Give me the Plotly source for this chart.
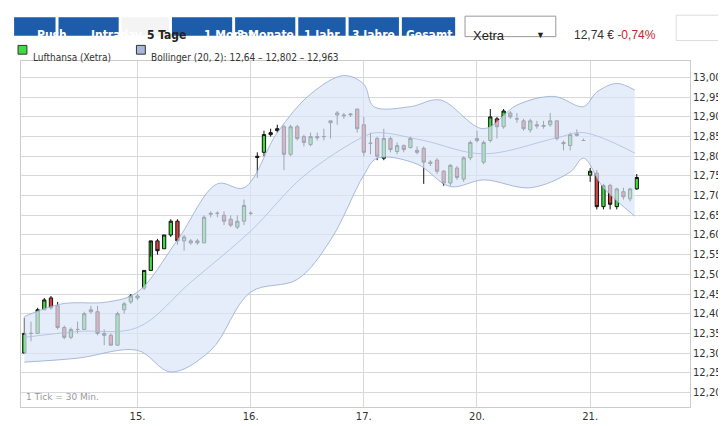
import plotly.graph_objects as go

# candle OHLC, x = 30-min slot index
opens = [12.30, 12.35, 12.35, 12.41, 12.44, 12.42, 12.365, 12.34, 12.36, 12.36, 12.405, 12.405, 12.35, 12.345, 12.32, 12.41, 12.43, 12.44,
         12.465, 12.51, 12.585, 12.565, 12.60, 12.635, 12.585, 12.58, 12.585, 12.58, 12.655, 12.655, 12.65, 12.64, 12.62, 12.635, 12.655,
         12.80, 12.81, 12.855, 12.865, 12.875, 12.805, 12.875, 12.85, 12.83, 12.85, 12.85, 12.89, 12.905, 12.905, 12.905, 12.92, 12.88,
         12.833, 12.845, 12.795, 12.845, 12.812, 12.827, 12.822, 12.815, 12.82, 12.785, 12.79, 12.762, 12.732, 12.77, 12.742, 12.796, 12.845,
         12.785, 12.84, 12.895, 12.875, 12.91, 12.895, 12.89, 12.867, 12.88, 12.876, 12.88, 12.89, 12.835, 12.827, 12.853, 12.84,
         12.752, 12.757, 12.672, 12.726, 12.672, 12.71, 12.692, 12.717]
closes = [12.35, 12.35, 12.41, 12.435, 12.415, 12.365, 12.34, 12.36, 12.36, 12.40, 12.41, 12.35, 12.345, 12.32, 12.40, 12.425, 12.445, 12.445,
          12.51, 12.585, 12.56, 12.60, 12.635, 12.585, 12.595, 12.585, 12.58, 12.645, 12.653, 12.655, 12.635, 12.625, 12.635, 12.675, 12.655,
          12.797, 12.855, 12.86, 12.87, 12.805, 12.875, 12.845, 12.835, 12.85, 12.847, 12.85, 12.885, 12.91, 12.903, 12.907, 12.87, 12.81,
          12.833, 12.80, 12.845, 12.817, 12.827, 12.817, 12.845, 12.81, 12.785, 12.782, 12.762, 12.732, 12.777, 12.746, 12.796, 12.835, 12.84,
          12.835, 12.90, 12.875, 12.915, 12.90, 12.895, 12.87, 12.89, 12.877, 12.878, 12.89, 12.845, 12.832, 12.855, 12.857, 12.84,
          12.762, 12.672, 12.726, 12.678, 12.717, 12.697, 12.717, 12.746]
highs = [12.39, 12.38, 12.415, 12.44, 12.445, 12.43, 12.37, 12.365, 12.38, 12.405, 12.42, 12.42, 12.36, 12.35, 12.405, 12.43, 12.45, 12.45,
         12.51, 12.545, 12.59, 12.60, 12.64, 12.64, 12.60, 12.59, 12.59, 12.65, 12.66, 12.66, 12.66, 12.65, 12.65, 12.69, 12.66,
         12.81, 12.865, 12.87, 12.88, 12.88, 12.88, 12.88, 12.855, 12.86, 12.86, 12.87, 12.89, 12.915, 12.91, 12.91, 12.92, 12.90,
         12.86, 12.85, 12.87, 12.85, 12.835, 12.83, 12.85, 12.825, 12.825, 12.79, 12.795, 12.765, 12.78, 12.775, 12.80, 12.84, 12.865,
         12.84, 12.92, 12.90, 12.92, 12.915, 12.91, 12.895, 12.895, 12.89, 12.89, 12.91, 12.89, 12.84, 12.86, 12.868, 12.845,
         12.77, 12.765, 12.73, 12.73, 12.72, 12.72, 12.72, 12.755]
lows = [12.30, 12.33, 12.35, 12.41, 12.41, 12.36, 12.335, 12.335, 12.35, 12.36, 12.40, 12.345, 12.32, 12.32, 12.32, 12.40, 12.425, 12.435,
        12.46, 12.51, 12.55, 12.565, 12.595, 12.575, 12.56, 12.575, 12.575, 12.58, 12.645, 12.645, 12.625, 12.62, 12.615, 12.625, 12.65,
        12.745, 12.80, 12.85, 12.86, 12.765, 12.80, 12.84, 12.825, 12.825, 12.84, 12.84, 12.845, 12.88, 12.895, 12.90, 12.86, 12.80,
        12.805, 12.79, 12.79, 12.81, 12.805, 12.81, 12.82, 12.805, 12.73, 12.775, 12.755, 12.725, 12.725, 12.74, 12.735, 12.79, 12.835,
        12.78, 12.835, 12.845, 12.87, 12.895, 12.885, 12.865, 12.86, 12.87, 12.87, 12.875, 12.84, 12.815, 12.815, 12.85, 12.84,
        12.735, 12.665, 12.665, 12.665, 12.665, 12.69, 12.685, 12.715]

# segment starts (slot) and lengths -> trading slots per day
seg_start = [0, 18, 35, 69, 85]
seg_len = [18, 17, 34, 16, 8]
slots = [s + i for s, n in zip(seg_start, seg_len) for i in range(n)]

# Bollinger bands (20, 2)
upper_x = [0, 5.6, 12.6, 17, 23, 29, 33, 38, 43, 48, 51, 52.5, 58, 62.5, 69, 74, 79.6, 84, 86, 89, 91.7]
upper_y = [12.393, 12.425, 12.43, 12.455, 12.587, 12.73, 12.72, 12.86, 12.958, 13.005, 12.983, 12.926, 12.926, 12.943, 12.87, 12.93, 12.952, 12.926, 12.963, 12.985, 12.968]
lower_x = [0, 8, 17, 22, 28, 34, 41, 46, 51, 53, 59, 64, 69, 76, 82, 84, 87, 91.7]
lower_y = [12.277, 12.287, 12.307, 12.252, 12.307, 12.455, 12.487, 12.587, 12.752, 12.795, 12.78, 12.723, 12.74, 12.72, 12.76, 12.795, 12.72, 12.648]
mid_x = [0, 8, 17, 25, 34, 42, 51, 53, 60, 69, 80, 84, 91.7]
mid_y = [12.34, 12.355, 12.365, 12.48, 12.61, 12.75, 12.85, 12.86, 12.84, 12.806, 12.847, 12.86, 12.808]

day_ticks = [17, 34, 51, 68, 85]
day_labels = ["15.", "16.", "17.", "20.", "21."]
buttons = ["Push", "Intraday", "5 Tage", "1 Monat", "3 Monate", "1 Jahr", "3 Jahre", "Gesamt"]
button_x = [[5, 47], [50, 111], [114, 162], [165, 226], [229, 290], [293, 341], [344, 395], [398, 452]]

W, H = 726, 426
L, R, T, B = 12, 36, 53, 18
PW, PH = W - L - R, H - T - B


def px(x):
    return (x - L) / PW


def py(y):
    return (H - B - y) / PH


band = "rgba(150,170,210,0.8)"

fig = go.Figure()
fig.add_trace(go.Scatter(x=lower_x, y=lower_y, mode="lines", line=dict(color=band, width=1, shape="spline"),
                         hoverinfo="skip", showlegend=False))
fig.add_trace(go.Scatter(x=upper_x, y=upper_y, mode="lines", line=dict(color=band, width=1, shape="spline"),
                         fill="tonexty", fillcolor="rgba(218,230,248,0.7)", hoverinfo="skip", showlegend=False))
fig.add_trace(go.Scatter(x=mid_x, y=mid_y, mode="lines", line=dict(color="rgba(170,190,225,0.8)", width=1, shape="spline"),
                         hoverinfo="skip", showlegend=False))
fig.add_trace(go.Candlestick(x=slots, open=opens, high=highs, low=lows, close=closes, whiskerwidth=0, opacity=1,
                             increasing=dict(fillcolor="#3fdc3f", line=dict(color="#111", width=1)),
                             decreasing=dict(fillcolor="#d94040", line=dict(color="#111", width=1)),
                             hoverinfo="skip", showlegend=False))

shapes = []
anns = []
for lab, (x0, x1) in zip(buttons, button_x):
    sel = lab == "5 Tage"
    shapes.append(dict(type="rect", xref="paper", yref="paper", x0=px(x0), x1=px(x1), y0=py(27), y1=py(8),
                       fillcolor="#f4f4f4" if sel else "#1d5bab", line=dict(width=0), layer="above"))
    anns.append(dict(text="<b>" + lab + "</b>", x=px((x0 + x1) / 2), y=py(17.5), xref="paper", yref="paper",
                     showarrow=False, font=dict(family="Liberation Sans Narrow, DejaVu Sans Condensed", size=12,
                                                color="#222" if sel else "white")))
# Xetra dropdown
shapes.append(dict(type="rect", xref="paper", yref="paper", x0=px(462), x1=px(554), y0=py(28), y1=py(7),
                   fillcolor="white", line=dict(color="#999", width=1)))
anns.append(dict(text="Xetra", x=px(468), y=py(17.5), xref="paper", yref="paper", xanchor="left", showarrow=False,
                 font=dict(family="Liberation Sans", size=13, color="#222")))
anns.append(dict(text="▼", x=px(545), y=py(17.5), xref="paper", yref="paper", showarrow=False,
                 font=dict(size=9, color="#222")))
anns.append(dict(text="12,74 € <span style='color:#c0282d'>-0,74%</span>", x=px(570), y=py(17.5), xref="paper",
                 yref="paper", xanchor="left", showarrow=False, font=dict(family="Liberation Sans", size=12, color="#333")))
# mini chart
shapes.append(dict(type="rect", xref="paper", yref="paper", x0=px(676), x1=px(726), y0=py(32), y1=py(6),
                   fillcolor="white", line=dict(color="#ddd", width=1)))
# legend
shapes.append(dict(type="rect", xref="paper", yref="paper", x0=px(9), x1=px(18), y0=py(46), y1=py(37),
                   fillcolor="#3fdc3f", line=dict(color="#333", width=1)))
shapes.append(dict(type="rect", xref="paper", yref="paper", x0=px(129), x1=px(138), y0=py(46), y1=py(37),
                   fillcolor="#a9b6dd", line=dict(color="#333", width=1)))
anns.append(dict(text="Lufthansa (Xetra)", x=px(22), y=py(41.5), xref="paper", yref="paper", xanchor="left",
                 showarrow=False, font=dict(family="DejaVu Sans Condensed", size=10, color="#333")))
anns.append(dict(text="Bollinger (20, 2): 12,64 – 12,802 – 12,963", x=px(142), y=py(41.5), xref="paper",
                 yref="paper", xanchor="left", showarrow=False,
                 font=dict(family="DejaVu Sans Condensed", size=10, color="#333")))
anns.append(dict(text="1 Tick = 30 Min.", x=0.005, y=0.01, xref="paper", yref="paper", xanchor="left", yanchor="bottom",
                 showarrow=False, font=dict(family="DejaVu Sans", size=9, color="#999")))

fig.update_layout(
    width=W, height=H, margin=dict(l=L, r=R, t=T, b=B),
    paper_bgcolor="white", plot_bgcolor="white", separators=",.",
    shapes=shapes, annotations=anns,
    xaxis=dict(range=[-0.5, 100], tickvals=day_ticks, ticktext=day_labels, showgrid=True, gridcolor="#d6d8de",
               rangeslider=dict(visible=False), zeroline=False, showline=True, linecolor="#ccc", mirror=True,
               ticks="", tickfont=dict(family="DejaVu Sans", size=10, color="#333")),
    yaxis=dict(range=[12.163, 13.042], side="right", dtick=0.05, tickformat=".2f", showgrid=True,
               gridcolor="#d6d8de", zeroline=False, showline=True, linecolor="#ccc", mirror=True, ticks="",
               tickfont=dict(family="DejaVu Sans", size=10, color="#333")),
)
fig.write_html("out.html")
